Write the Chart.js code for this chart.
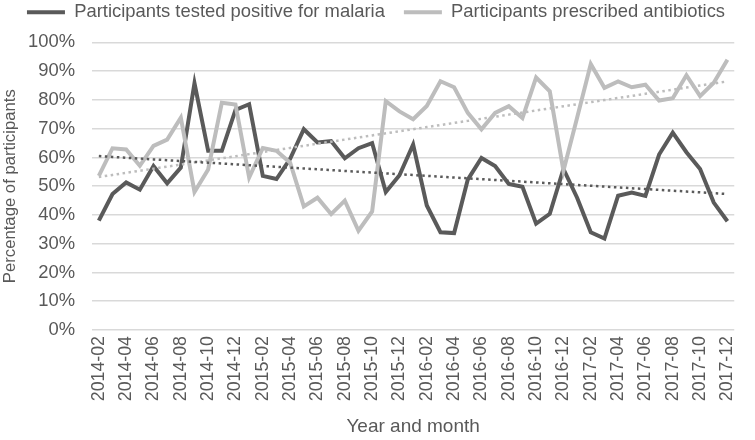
<!DOCTYPE html>
<html>
<head>
<meta charset="utf-8">
<script src="https://cdn.jsdelivr.net/npm/chart.js@4/dist/chart.umd.min.js"></script>
<style>
html,body{margin:0;padding:0;background:#fff;}
#wrap{width:755px;height:440px;position:relative;}
</style>
</head>
<body>
<div id="wrap"><canvas id="c" width="755" height="440"></canvas></div>
<script>
const months = ["2014-02","2014-03","2014-04","2014-05","2014-06","2014-07","2014-08","2014-09","2014-10","2014-11","2014-12",
"2015-01","2015-02","2015-03","2015-04","2015-05","2015-06","2015-07","2015-08","2015-09","2015-10","2015-11","2015-12",
"2016-01","2016-02","2016-03","2016-04","2016-05","2016-06","2016-07","2016-08","2016-09","2016-10","2016-11","2016-12",
"2017-01","2017-02","2017-03","2017-04","2017-05","2017-06","2017-07","2017-08","2017-09","2017-10","2017-11","2017-12"];

const malaria = [38,47.3,51.3,48.8,57,51,56.5,85.8,62.3,62.3,76.5,78.5,53.6,52.5,59.5,69.8,65.2,65.7,59.7,63.2,65,48,53.8,
64.5,43.3,34,33.7,52.3,59.8,57,50.8,49.8,37,40.4,56,46,34,31.8,46.7,47.8,46.6,61,68.6,61.8,56,44.3,37.8];

const antibiotics = [53.6,63.2,62.8,57.1,64,66.2,73.8,48,55.8,79,78.4,53,63.3,62.3,58.2,43,46,40.3,45,34.5,41.2,79.6,76,
73.3,77.9,86.5,84.4,75.5,69.8,75.5,77.8,73.7,87.8,83,55.4,73.8,92.5,84.2,86.4,84.4,85.3,79.8,80.6,88.6,81.3,86,94];

const yTicks = ["0%","10%","20%","30%","40%","50%","60%","70%","80%","90%","100%"];

const seriesNames = ["Participants tested positive for malaria","Participants prescribed antibiotics"];

function trend(arr){
  const n = arr.length;
  let sx=0, sy=0, sxx=0, sxy=0;
  arr.forEach((v,i)=>{ const x=i+1; sx+=x; sy+=v; sxx+=x*x; sxy+=x*v; });
  const b = (n*sxy - sx*sy)/(n*sxx - sx*sx);
  const a = (sy - b*sx)/n;
  return arr.map((v,i)=> a + b*(i+1));
}

const DARK = '#5a5a5a';
const LIGHT = '#bdbdbd';
const FONT = "'Liberation Sans', Arial, sans-serif";

new Chart(document.getElementById('c'), {
  type: 'line',
  data: {
    labels: months,
    datasets: [
      {label: seriesNames[0], data: malaria, borderColor: DARK, backgroundColor: DARK, borderWidth: 4, pointRadius: 0, tension: 0, order: 2},
      {label: seriesNames[1], data: antibiotics, borderColor: LIGHT, backgroundColor: LIGHT, borderWidth: 4, pointRadius: 0, tension: 0, order: 1},
      {label: 'trend1', data: trend(malaria), borderColor: DARK, borderWidth: 2.5, borderDash: [2.5,3.5], pointRadius: 0, order: 0},
      {label: 'trend2', data: trend(antibiotics), borderColor: LIGHT, borderWidth: 2.5, borderDash: [2.5,3.5], pointRadius: 0, order: 0}
    ]
  },
  options: {
    responsive: false,
    animation: false,
    layout: {padding: {left: 0, right: 3, top: -16, bottom: 2}},
    plugins: {
      tooltip: {enabled: false},
      legend: {
        position: 'top',
        align: 'center',
        labels: {
          filter: (item) => item.datasetIndex < 2,
          sort: (a,b) => a.datasetIndex - b.datasetIndex,
          usePointStyle: true,
          pointStyle: 'line',
          pointStyleWidth: 38,
          color: '#595959',
          font: {family: FONT, size: 18.4},
          padding: 19,
          boxHeight: 18.4
        }
      }
    },
    scales: {
      x: {
        offset: true,
        grid: {display: false, drawTicks: false},
        border: {display: false},
        afterFit: (s) => { s.height = 108; },
        ticks: {
          autoSkip: false,
          maxRotation: 90,
          minRotation: 90,
          color: '#595959',
          font: {family: FONT, size: 17.8},
          padding: 6,
          callback: function(v, i){ return i % 2 === 0 ? this.getLabelForValue(v) : ''; }
        },
        title: {display: true, text: 'Year and month', color: '#595959', font: {family: FONT, size: 19}, padding: {top: 2, bottom: 0}}
      },
      xTop: {
        position: 'top',
        grid: {display: false, drawTicks: false},
        border: {display: false},
        ticks: {display: false},
        afterFit: (s) => { s.height = 11; }
      },
      y: {
        min: 0, max: 100,
        grid: {color: '#d9d9d9', lineWidth: 1.5, drawTicks: false},
        border: {display: false},
        afterFit: (s) => { s.width = 92; },
        ticks: {
          stepSize: 10,
          autoSkip: false,
          color: '#595959',
          font: {family: FONT, size: 18.4},
          padding: 17,
          callback: (v) => yTicks[Math.round(v/10)]
        },
        title: {display: true, text: 'Percentage of participants', color: '#595959', font: {family: FONT, size: 16.7}, padding: {top: 0, bottom: 0}}
      }
    }
  }
});
</script>
</body>
</html>
